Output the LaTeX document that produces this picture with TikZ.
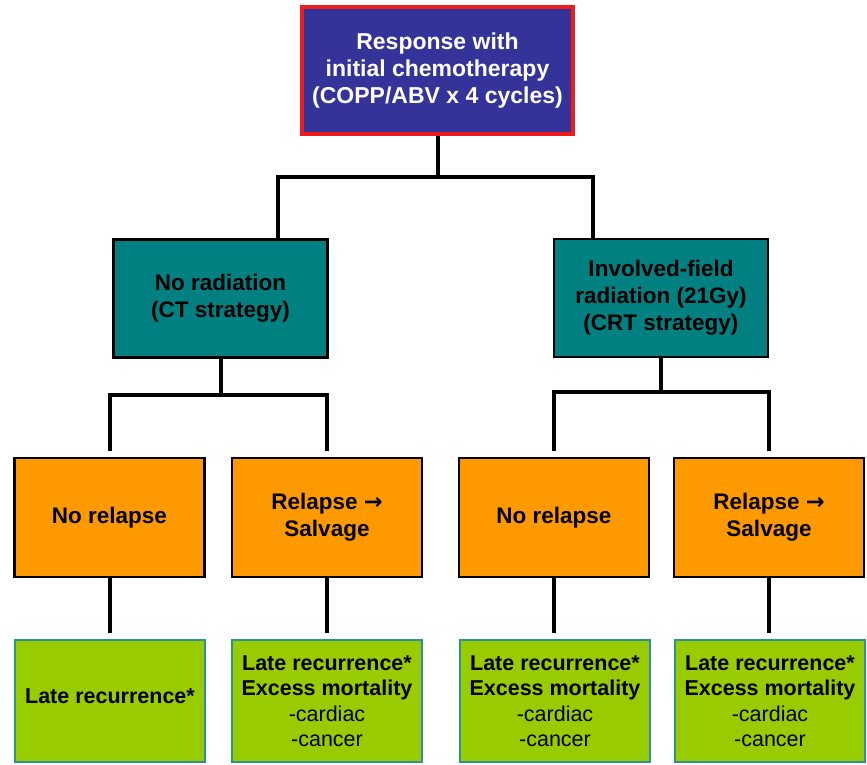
\documentclass[tikz,border=0pt]{standalone}
\usepackage{fontspec}
\setmainfont{Liberation Sans}
\newfontfamily\arrowfont{DejaVu Sans}
\definecolor{startblue}{HTML}{333399}
\definecolor{startred}{HTML}{EE1C1C}
\definecolor{armteal}{HTML}{008080}
\definecolor{reloran}{HTML}{FF9900}
\definecolor{outgreen}{HTML}{99CC00}
\definecolor{outedge}{HTML}{2A9494}
\newcommand{\salvarrow}{{\arrowfont\bfseries →}}
\begin{document}
\begin{tikzpicture}[x=1pt,y=-1pt,
    box/.style={draw=black, line width=2.5pt, inner sep=0pt, align=center,
      font=\bfseries\fontsize{22.5}{27}\selectfont},
    startbox/.style={box, fill=startblue, draw=startred, line width=3.5pt, text=white,
      minimum width=271pt, minimum height=127pt, font=\bfseries\fontsize{23}{27}\selectfont},
    armbox/.style={box, fill=armteal, text=black, minimum width=214pt, minimum height=118pt},
    relbox/.style={box, fill=reloran, minimum width=190pt, minimum height=119pt},
    outbox/.style={box, fill=outgreen, draw=outedge, minimum width=190pt, minimum height=122pt,
      font=\fontsize{21.5}{25.5}\selectfont},
    link/.style={line width=4pt}]
    \useasboundingbox (0,0) rectangle (867,764);

    % start of treatment
    \node[startbox] (start) at (437.5,70.5) {Response with\\initial chemotherapy\\(COPP/ABV x 4 cycles)};

    % the two strategies
    \node[armbox] (armL) at (220.5,298.5) {No radiation\\(CT strategy)};
    \node[armbox] (armR) at (661,298) {Involved-field\\radiation (21Gy)\\(CRT strategy)};

    % relapse or not
    \node[relbox] (relA) at (109.5,517.5) {No relapse};
    \node[relbox] (relB) at (327,517.5) {Relapse \salvarrow\\Salvage};
    \node[relbox] (relC) at (554,517.5) {No relapse};
    \node[relbox] (relD) at (769,517.5) {Relapse \salvarrow\\Salvage};

    % outcomes
    \node[outbox] (outA) at (110,701) {\raisebox{10pt}{\textbf{Late recurrence*}}};
    \node[outbox] (outB) at (327,701) {\textbf{Late recurrence*}\\\textbf{Excess mortality}\\-cardiac\\-cancer};
    \node[outbox] (outC) at (555,701) {\textbf{Late recurrence*}\\\textbf{Excess mortality}\\-cardiac\\-cancer};
    \node[outbox] (outD) at (770,701) {\textbf{Late recurrence*}\\\textbf{Excess mortality}\\-cardiac\\-cancer};

    % branch points
    \coordinate (jL) at (278,177);
    \coordinate (jR) at (593,177);
    \coordinate (busL) at (0,395);
    \coordinate (busR) at (0,392);

    \draw[link] (start.south) -- (start.south |- jL);
    \draw[link] (jL |- armL.north) -- (jL) -- (jR) -- (jR |- armR.north);

    \draw[link] (armL.south) -- (armL.south |- busL);
    \draw[link,shorten <=6pt,shorten >=6pt] (relA.north) -- (relA.north |- busL) -- (relB.north |- busL) -- (relB.north);

    \draw[link] (armR.south) -- (armR.south |- busR);
    \draw[link,shorten <=6pt,shorten >=6pt] (relC.north) -- (relC.north |- busR) -- (relD.north |- busR) -- (relD.north);

    \draw[link,shorten >=6pt] (relA.south) -- (relA.south |- outA.north);
    \draw[link,shorten >=6pt] (relB.south) -- (relB.south |- outB.north);
    \draw[link,shorten >=6pt] (relC.south) -- (relC.south |- outC.north);
    \draw[link,shorten >=6pt] (relD.south) -- (relD.south |- outD.north);

\end{tikzpicture}
\end{document}
